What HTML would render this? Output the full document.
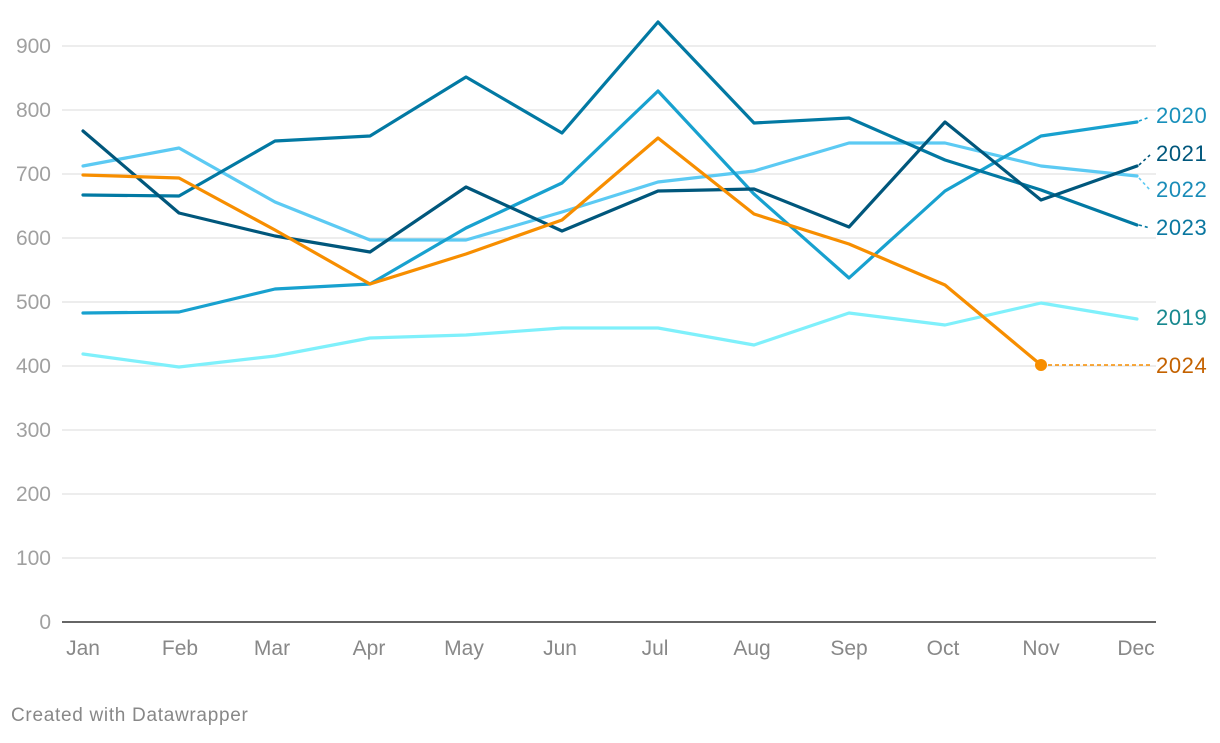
<!DOCTYPE html><html><head><style>body{margin:0;background:#fff;}svg text{font-family:"Liberation Sans",sans-serif;}</style></head><body>
<svg width="1220" height="738" xmlns="http://www.w3.org/2000/svg">
<g stroke="#e2e2e2" stroke-width="1.3">
<line x1="62" x2="1156" y1="46" y2="46"/><line x1="62" x2="1156" y1="110" y2="110"/><line x1="62" x2="1156" y1="174" y2="174"/><line x1="62" x2="1156" y1="238" y2="238"/><line x1="62" x2="1156" y1="302" y2="302"/><line x1="62" x2="1156" y1="366" y2="366"/><line x1="62" x2="1156" y1="430" y2="430"/><line x1="62" x2="1156" y1="494" y2="494"/><line x1="62" x2="1156" y1="558" y2="558"/>
</g>
<line x1="62" x2="1156" y1="622" y2="622" stroke="#333" stroke-width="1.5"/>
<g fill="#a0a0a0" font-size="21" text-anchor="end">
<text x="51" y="53">900</text><text x="51" y="117">800</text><text x="51" y="181">700</text><text x="51" y="245">600</text><text x="51" y="309">500</text><text x="51" y="373">400</text><text x="51" y="437">300</text><text x="51" y="501">200</text><text x="51" y="565">100</text><text x="51" y="629">0</text>
</g>
<g fill="#888" font-size="21" text-anchor="middle">
<text x="83" y="655">Jan</text><text x="180" y="655">Feb</text><text x="272" y="655">Mar</text><text x="369" y="655">Apr</text><text x="464" y="655">May</text><text x="560" y="655">Jun</text><text x="655" y="655">Jul</text><text x="752" y="655">Aug</text><text x="849" y="655">Sep</text><text x="943" y="655">Oct</text><text x="1041" y="655">Nov</text><text x="1136" y="655">Dec</text>
</g>
<g fill="none" stroke-width="3.2" stroke-linejoin="round" stroke-linecap="round">
<polyline stroke="#7ff0fb" points="83,354 179,367 275,356 370,338 466,335 562,328 658,328 754,345 849,313 945,325 1041,303 1137,319"/>
<polyline stroke="#5ccaf3" points="83,166 179,148 275,202 370,240 466,240 562,212 658,182 754,171 849,143 945,143 1041,166 1137,176"/>
<polyline stroke="#18a1cf" points="83,313 179,312 275,289 370,284 466,228 562,183 658,91 754,194 849,278 945,191 1041,136 1137,122"/>
<polyline stroke="#0279a3" points="83,195 179,196 275,141 370,136 466,77 562,133 658,22 754,123 849,118 945,160 1041,190 1137,225"/>
<polyline stroke="#00577c" points="83,131 179,213 275,236 370,252 466,187 562,231 658,191 754,189 849,227 945,122 1041,200 1137,166"/>
<polyline stroke="#f78e00" points="83,175 179,178 275,230 370,284 466,254 562,220 658,138 754,214 849,244 945,285 1041,365"/>
</g>
<line x1="1041" x2="1153" y1="365" y2="365" stroke="#f78e00" stroke-width="1.6" stroke-dasharray="4,3"/>
<circle cx="1041" cy="365" r="6" fill="#f78e00"/>
<g stroke-width="1.6" stroke-dasharray="3,3">
<line x1="1139" y1="121" x2="1150" y2="117" stroke="#18a1cf"/>
<line x1="1139" y1="165" x2="1150" y2="155" stroke="#00577c"/>
<line x1="1139" y1="178" x2="1150" y2="190" stroke="#5ccaf3"/>
<line x1="1139" y1="225" x2="1150" y2="228" stroke="#0279a3"/>
</g>
<g font-size="22" letter-spacing="0.6">
<text x="1156" y="123" fill="#1890bb">2020</text>
<text x="1156" y="161" fill="#00577c">2021</text>
<text x="1156" y="197" fill="#1a8cb8">2022</text>
<text x="1156" y="235" fill="#0a77a0">2023</text>
<text x="1156" y="325" fill="#17888f">2019</text>
<text x="1156" y="373" fill="#c46200">2024</text>
</g>
<text x="11" y="721" font-size="19" letter-spacing="0.7" fill="#888">Created with Datawrapper</text>
</svg>
</body></html>
